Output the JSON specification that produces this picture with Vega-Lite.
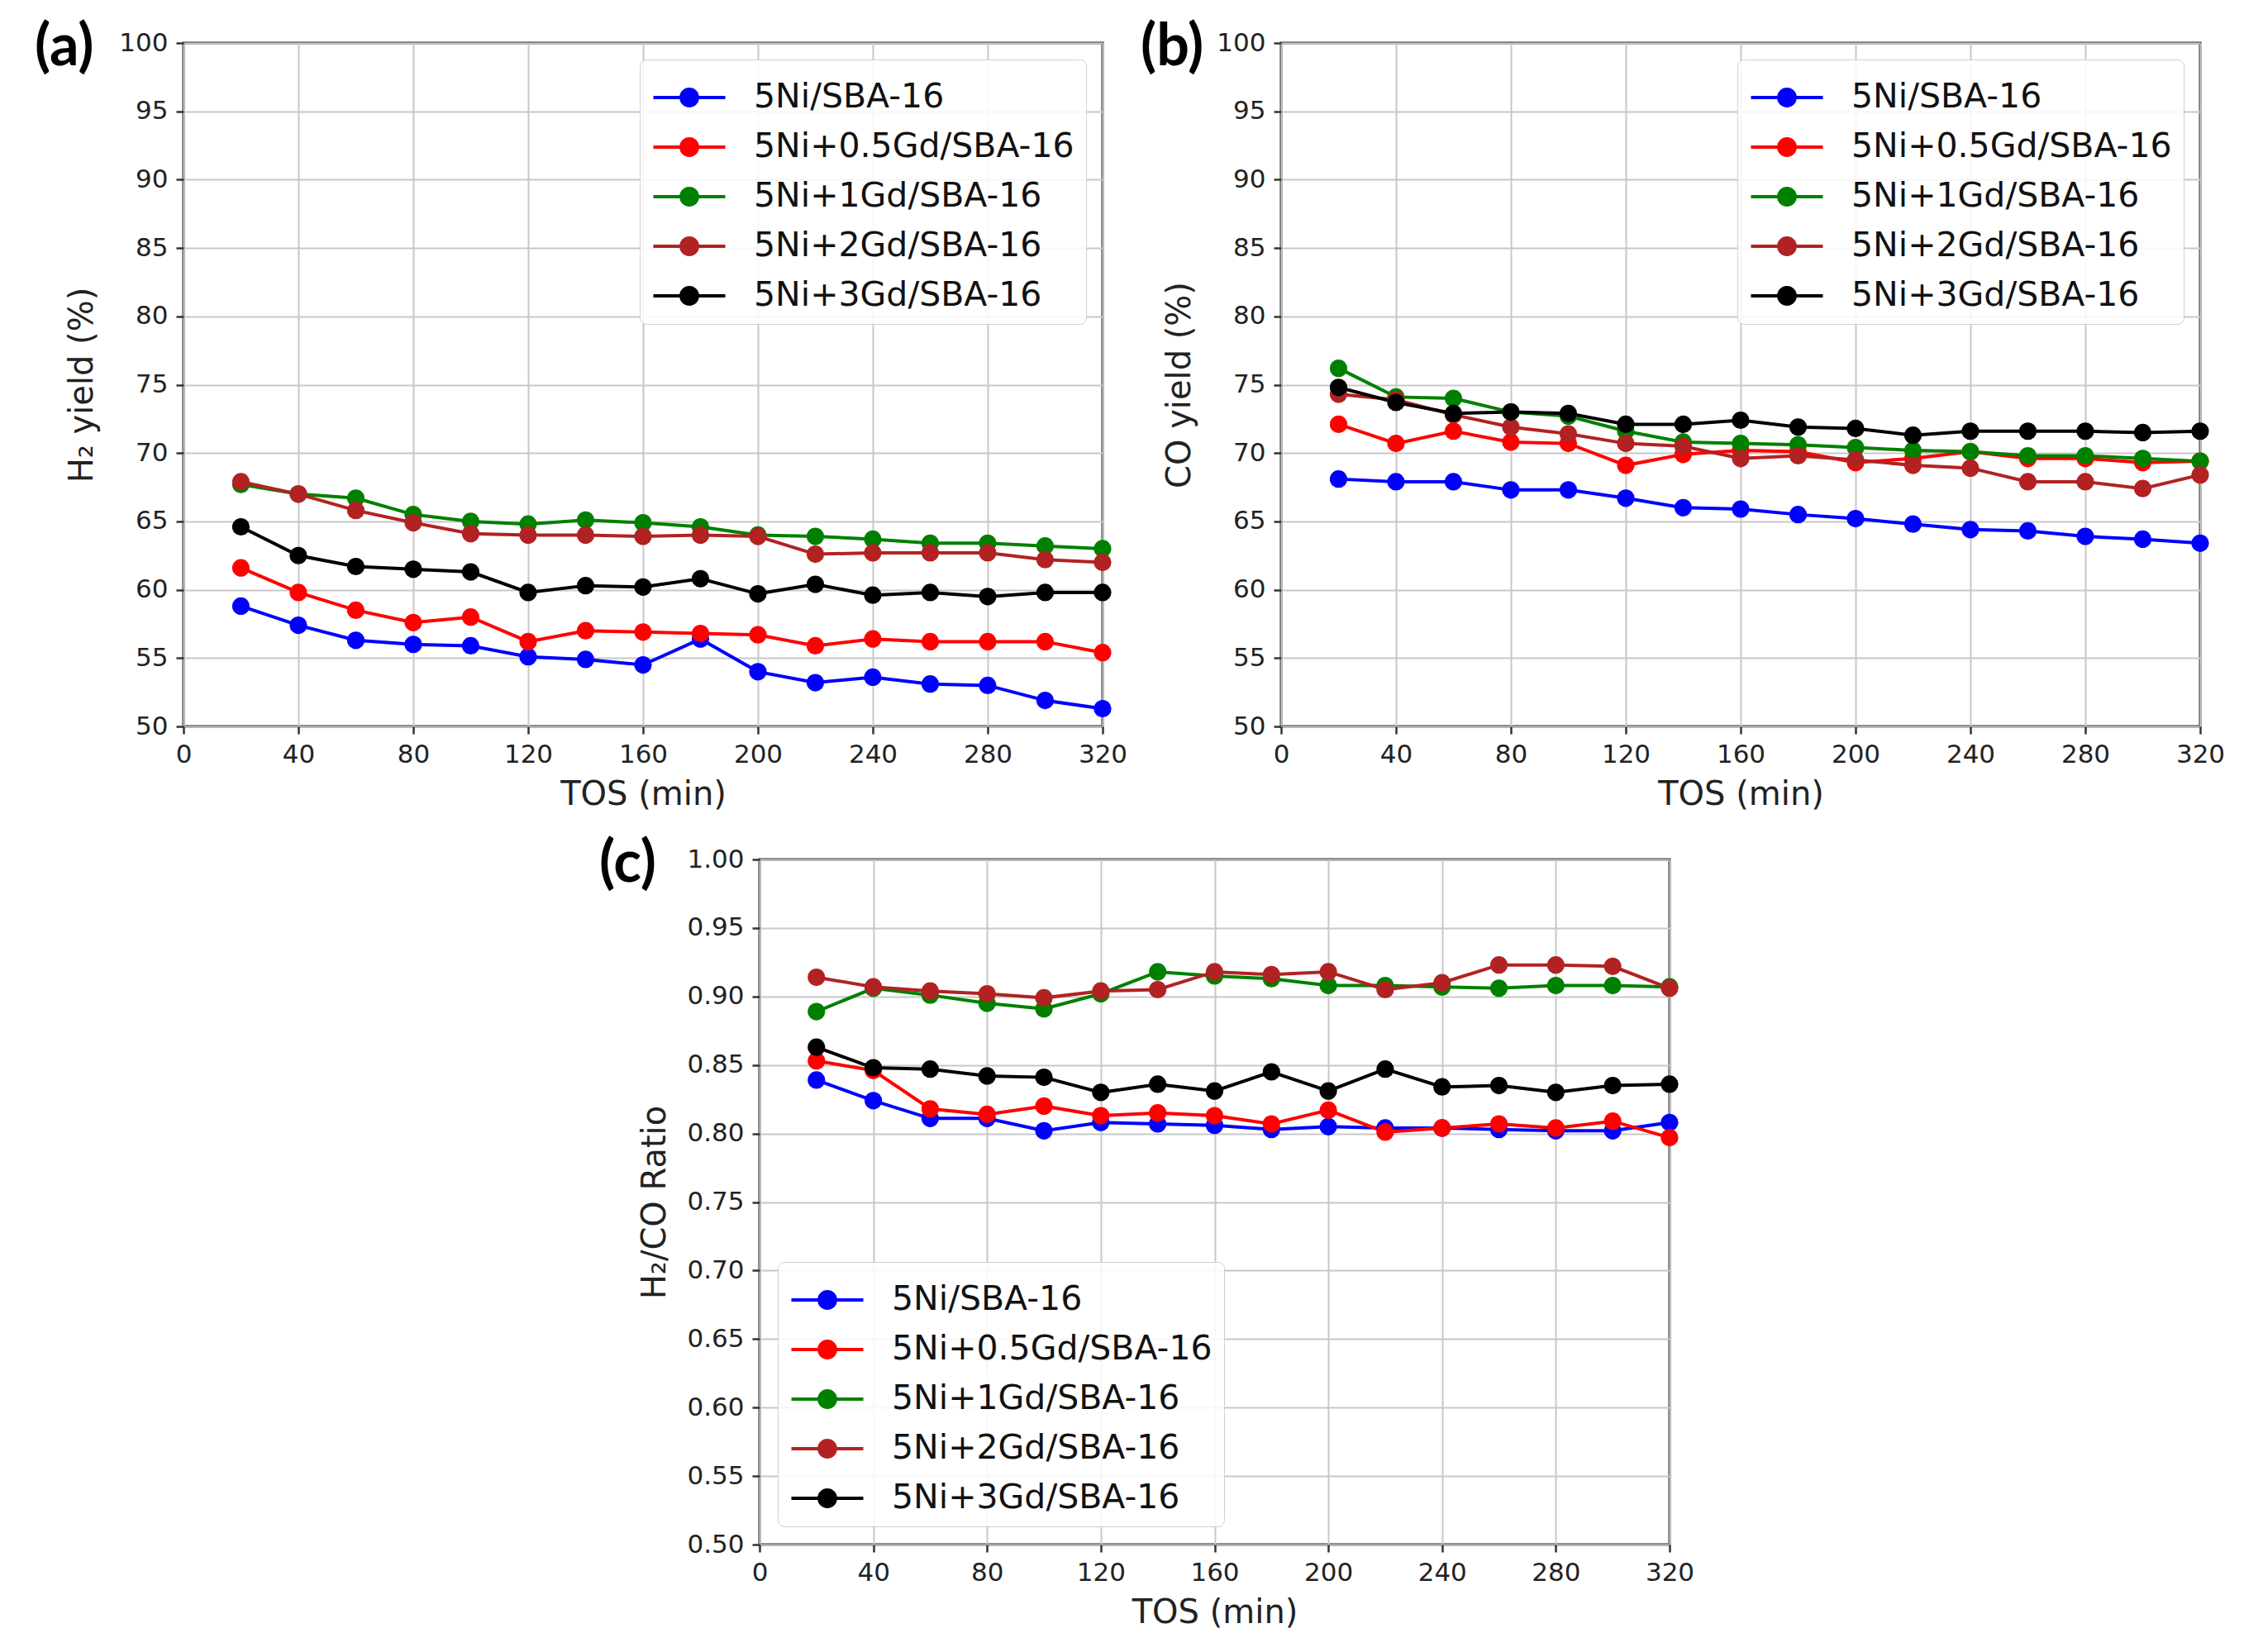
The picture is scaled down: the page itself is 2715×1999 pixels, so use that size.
{
  "$schema": "https://vega.github.io/schema/vega-lite/v6.json",
  "background": "white",
  "padding": {"left": 40, "top": 21, "right": 20, "bottom": 20},
  "datasets": {
    "yields": [
      {"p": "a", "s": "5Ni/SBA-16", "t": 20, "v": 58.8}, {"p": "a", "s": "5Ni/SBA-16", "t": 40, "v": 57.4}, {"p": "a", "s": "5Ni/SBA-16", "t": 60, "v": 56.3}, {"p": "a", "s": "5Ni/SBA-16", "t": 80, "v": 56.0},
      {"p": "a", "s": "5Ni/SBA-16", "t": 100, "v": 55.9}, {"p": "a", "s": "5Ni/SBA-16", "t": 120, "v": 55.1}, {"p": "a", "s": "5Ni/SBA-16", "t": 140, "v": 54.9}, {"p": "a", "s": "5Ni/SBA-16", "t": 160, "v": 54.5},
      {"p": "a", "s": "5Ni/SBA-16", "t": 180, "v": 56.4}, {"p": "a", "s": "5Ni/SBA-16", "t": 200, "v": 54.0}, {"p": "a", "s": "5Ni/SBA-16", "t": 220, "v": 53.2}, {"p": "a", "s": "5Ni/SBA-16", "t": 240, "v": 53.6},
      {"p": "a", "s": "5Ni/SBA-16", "t": 260, "v": 53.1}, {"p": "a", "s": "5Ni/SBA-16", "t": 280, "v": 53.0}, {"p": "a", "s": "5Ni/SBA-16", "t": 300, "v": 51.9}, {"p": "a", "s": "5Ni/SBA-16", "t": 320, "v": 51.3},
      {"p": "a", "s": "5Ni+0.5Gd/SBA-16", "t": 20, "v": 61.6}, {"p": "a", "s": "5Ni+0.5Gd/SBA-16", "t": 40, "v": 59.8}, {"p": "a", "s": "5Ni+0.5Gd/SBA-16", "t": 60, "v": 58.5}, {"p": "a", "s": "5Ni+0.5Gd/SBA-16", "t": 80, "v": 57.6},
      {"p": "a", "s": "5Ni+0.5Gd/SBA-16", "t": 100, "v": 58.0}, {"p": "a", "s": "5Ni+0.5Gd/SBA-16", "t": 120, "v": 56.2}, {"p": "a", "s": "5Ni+0.5Gd/SBA-16", "t": 140, "v": 57.0}, {"p": "a", "s": "5Ni+0.5Gd/SBA-16", "t": 160, "v": 56.9},
      {"p": "a", "s": "5Ni+0.5Gd/SBA-16", "t": 180, "v": 56.8}, {"p": "a", "s": "5Ni+0.5Gd/SBA-16", "t": 200, "v": 56.7}, {"p": "a", "s": "5Ni+0.5Gd/SBA-16", "t": 220, "v": 55.9}, {"p": "a", "s": "5Ni+0.5Gd/SBA-16", "t": 240, "v": 56.4},
      {"p": "a", "s": "5Ni+0.5Gd/SBA-16", "t": 260, "v": 56.2}, {"p": "a", "s": "5Ni+0.5Gd/SBA-16", "t": 280, "v": 56.2}, {"p": "a", "s": "5Ni+0.5Gd/SBA-16", "t": 300, "v": 56.2}, {"p": "a", "s": "5Ni+0.5Gd/SBA-16", "t": 320, "v": 55.4},
      {"p": "a", "s": "5Ni+1Gd/SBA-16", "t": 20, "v": 67.7}, {"p": "a", "s": "5Ni+1Gd/SBA-16", "t": 40, "v": 67.0}, {"p": "a", "s": "5Ni+1Gd/SBA-16", "t": 60, "v": 66.7}, {"p": "a", "s": "5Ni+1Gd/SBA-16", "t": 80, "v": 65.5},
      {"p": "a", "s": "5Ni+1Gd/SBA-16", "t": 100, "v": 65.0}, {"p": "a", "s": "5Ni+1Gd/SBA-16", "t": 120, "v": 64.8}, {"p": "a", "s": "5Ni+1Gd/SBA-16", "t": 140, "v": 65.1}, {"p": "a", "s": "5Ni+1Gd/SBA-16", "t": 160, "v": 64.9},
      {"p": "a", "s": "5Ni+1Gd/SBA-16", "t": 180, "v": 64.6}, {"p": "a", "s": "5Ni+1Gd/SBA-16", "t": 200, "v": 64.0}, {"p": "a", "s": "5Ni+1Gd/SBA-16", "t": 220, "v": 63.9}, {"p": "a", "s": "5Ni+1Gd/SBA-16", "t": 240, "v": 63.7},
      {"p": "a", "s": "5Ni+1Gd/SBA-16", "t": 260, "v": 63.4}, {"p": "a", "s": "5Ni+1Gd/SBA-16", "t": 280, "v": 63.4}, {"p": "a", "s": "5Ni+1Gd/SBA-16", "t": 300, "v": 63.2}, {"p": "a", "s": "5Ni+1Gd/SBA-16", "t": 320, "v": 63.0},
      {"p": "a", "s": "5Ni+2Gd/SBA-16", "t": 20, "v": 67.9}, {"p": "a", "s": "5Ni+2Gd/SBA-16", "t": 40, "v": 67.0}, {"p": "a", "s": "5Ni+2Gd/SBA-16", "t": 60, "v": 65.8}, {"p": "a", "s": "5Ni+2Gd/SBA-16", "t": 80, "v": 64.9},
      {"p": "a", "s": "5Ni+2Gd/SBA-16", "t": 100, "v": 64.1}, {"p": "a", "s": "5Ni+2Gd/SBA-16", "t": 120, "v": 64.0}, {"p": "a", "s": "5Ni+2Gd/SBA-16", "t": 140, "v": 64.0}, {"p": "a", "s": "5Ni+2Gd/SBA-16", "t": 160, "v": 63.9},
      {"p": "a", "s": "5Ni+2Gd/SBA-16", "t": 180, "v": 64.0}, {"p": "a", "s": "5Ni+2Gd/SBA-16", "t": 200, "v": 63.9}, {"p": "a", "s": "5Ni+2Gd/SBA-16", "t": 220, "v": 62.6}, {"p": "a", "s": "5Ni+2Gd/SBA-16", "t": 240, "v": 62.7},
      {"p": "a", "s": "5Ni+2Gd/SBA-16", "t": 260, "v": 62.7}, {"p": "a", "s": "5Ni+2Gd/SBA-16", "t": 280, "v": 62.7}, {"p": "a", "s": "5Ni+2Gd/SBA-16", "t": 300, "v": 62.2}, {"p": "a", "s": "5Ni+2Gd/SBA-16", "t": 320, "v": 62.0},
      {"p": "a", "s": "5Ni+3Gd/SBA-16", "t": 20, "v": 64.6}, {"p": "a", "s": "5Ni+3Gd/SBA-16", "t": 40, "v": 62.5}, {"p": "a", "s": "5Ni+3Gd/SBA-16", "t": 60, "v": 61.7}, {"p": "a", "s": "5Ni+3Gd/SBA-16", "t": 80, "v": 61.5},
      {"p": "a", "s": "5Ni+3Gd/SBA-16", "t": 100, "v": 61.3}, {"p": "a", "s": "5Ni+3Gd/SBA-16", "t": 120, "v": 59.8}, {"p": "a", "s": "5Ni+3Gd/SBA-16", "t": 140, "v": 60.3}, {"p": "a", "s": "5Ni+3Gd/SBA-16", "t": 160, "v": 60.2},
      {"p": "a", "s": "5Ni+3Gd/SBA-16", "t": 180, "v": 60.8}, {"p": "a", "s": "5Ni+3Gd/SBA-16", "t": 200, "v": 59.7}, {"p": "a", "s": "5Ni+3Gd/SBA-16", "t": 220, "v": 60.4}, {"p": "a", "s": "5Ni+3Gd/SBA-16", "t": 240, "v": 59.6},
      {"p": "a", "s": "5Ni+3Gd/SBA-16", "t": 260, "v": 59.8}, {"p": "a", "s": "5Ni+3Gd/SBA-16", "t": 280, "v": 59.5}, {"p": "a", "s": "5Ni+3Gd/SBA-16", "t": 300, "v": 59.8}, {"p": "a", "s": "5Ni+3Gd/SBA-16", "t": 320, "v": 59.8},

      {"p": "b", "s": "5Ni/SBA-16", "t": 20, "v": 68.1}, {"p": "b", "s": "5Ni/SBA-16", "t": 40, "v": 67.9}, {"p": "b", "s": "5Ni/SBA-16", "t": 60, "v": 67.9}, {"p": "b", "s": "5Ni/SBA-16", "t": 80, "v": 67.3},
      {"p": "b", "s": "5Ni/SBA-16", "t": 100, "v": 67.3}, {"p": "b", "s": "5Ni/SBA-16", "t": 120, "v": 66.7}, {"p": "b", "s": "5Ni/SBA-16", "t": 140, "v": 66.0}, {"p": "b", "s": "5Ni/SBA-16", "t": 160, "v": 65.9},
      {"p": "b", "s": "5Ni/SBA-16", "t": 180, "v": 65.5}, {"p": "b", "s": "5Ni/SBA-16", "t": 200, "v": 65.2}, {"p": "b", "s": "5Ni/SBA-16", "t": 220, "v": 64.8}, {"p": "b", "s": "5Ni/SBA-16", "t": 240, "v": 64.4},
      {"p": "b", "s": "5Ni/SBA-16", "t": 260, "v": 64.3}, {"p": "b", "s": "5Ni/SBA-16", "t": 280, "v": 63.9}, {"p": "b", "s": "5Ni/SBA-16", "t": 300, "v": 63.7}, {"p": "b", "s": "5Ni/SBA-16", "t": 320, "v": 63.4},
      {"p": "b", "s": "5Ni+0.5Gd/SBA-16", "t": 20, "v": 72.1}, {"p": "b", "s": "5Ni+0.5Gd/SBA-16", "t": 40, "v": 70.7}, {"p": "b", "s": "5Ni+0.5Gd/SBA-16", "t": 60, "v": 71.6}, {"p": "b", "s": "5Ni+0.5Gd/SBA-16", "t": 80, "v": 70.8},
      {"p": "b", "s": "5Ni+0.5Gd/SBA-16", "t": 100, "v": 70.7}, {"p": "b", "s": "5Ni+0.5Gd/SBA-16", "t": 120, "v": 69.1}, {"p": "b", "s": "5Ni+0.5Gd/SBA-16", "t": 140, "v": 69.9}, {"p": "b", "s": "5Ni+0.5Gd/SBA-16", "t": 160, "v": 70.2},
      {"p": "b", "s": "5Ni+0.5Gd/SBA-16", "t": 180, "v": 70.1}, {"p": "b", "s": "5Ni+0.5Gd/SBA-16", "t": 200, "v": 69.3}, {"p": "b", "s": "5Ni+0.5Gd/SBA-16", "t": 220, "v": 69.6}, {"p": "b", "s": "5Ni+0.5Gd/SBA-16", "t": 240, "v": 70.1},
      {"p": "b", "s": "5Ni+0.5Gd/SBA-16", "t": 260, "v": 69.6}, {"p": "b", "s": "5Ni+0.5Gd/SBA-16", "t": 280, "v": 69.6}, {"p": "b", "s": "5Ni+0.5Gd/SBA-16", "t": 300, "v": 69.3}, {"p": "b", "s": "5Ni+0.5Gd/SBA-16", "t": 320, "v": 69.4},
      {"p": "b", "s": "5Ni+1Gd/SBA-16", "t": 20, "v": 76.2}, {"p": "b", "s": "5Ni+1Gd/SBA-16", "t": 40, "v": 74.1}, {"p": "b", "s": "5Ni+1Gd/SBA-16", "t": 60, "v": 74.0}, {"p": "b", "s": "5Ni+1Gd/SBA-16", "t": 80, "v": 73.0},
      {"p": "b", "s": "5Ni+1Gd/SBA-16", "t": 100, "v": 72.7}, {"p": "b", "s": "5Ni+1Gd/SBA-16", "t": 120, "v": 71.6}, {"p": "b", "s": "5Ni+1Gd/SBA-16", "t": 140, "v": 70.8}, {"p": "b", "s": "5Ni+1Gd/SBA-16", "t": 160, "v": 70.7},
      {"p": "b", "s": "5Ni+1Gd/SBA-16", "t": 180, "v": 70.6}, {"p": "b", "s": "5Ni+1Gd/SBA-16", "t": 200, "v": 70.4}, {"p": "b", "s": "5Ni+1Gd/SBA-16", "t": 220, "v": 70.2}, {"p": "b", "s": "5Ni+1Gd/SBA-16", "t": 240, "v": 70.1},
      {"p": "b", "s": "5Ni+1Gd/SBA-16", "t": 260, "v": 69.8}, {"p": "b", "s": "5Ni+1Gd/SBA-16", "t": 280, "v": 69.8}, {"p": "b", "s": "5Ni+1Gd/SBA-16", "t": 300, "v": 69.6}, {"p": "b", "s": "5Ni+1Gd/SBA-16", "t": 320, "v": 69.4},
      {"p": "b", "s": "5Ni+2Gd/SBA-16", "t": 20, "v": 74.3}, {"p": "b", "s": "5Ni+2Gd/SBA-16", "t": 40, "v": 73.9}, {"p": "b", "s": "5Ni+2Gd/SBA-16", "t": 60, "v": 72.8}, {"p": "b", "s": "5Ni+2Gd/SBA-16", "t": 80, "v": 71.9},
      {"p": "b", "s": "5Ni+2Gd/SBA-16", "t": 100, "v": 71.4}, {"p": "b", "s": "5Ni+2Gd/SBA-16", "t": 120, "v": 70.7}, {"p": "b", "s": "5Ni+2Gd/SBA-16", "t": 140, "v": 70.5}, {"p": "b", "s": "5Ni+2Gd/SBA-16", "t": 160, "v": 69.6},
      {"p": "b", "s": "5Ni+2Gd/SBA-16", "t": 180, "v": 69.8}, {"p": "b", "s": "5Ni+2Gd/SBA-16", "t": 200, "v": 69.5}, {"p": "b", "s": "5Ni+2Gd/SBA-16", "t": 220, "v": 69.1}, {"p": "b", "s": "5Ni+2Gd/SBA-16", "t": 240, "v": 68.9},
      {"p": "b", "s": "5Ni+2Gd/SBA-16", "t": 260, "v": 67.9}, {"p": "b", "s": "5Ni+2Gd/SBA-16", "t": 280, "v": 67.9}, {"p": "b", "s": "5Ni+2Gd/SBA-16", "t": 300, "v": 67.4}, {"p": "b", "s": "5Ni+2Gd/SBA-16", "t": 320, "v": 68.4},
      {"p": "b", "s": "5Ni+3Gd/SBA-16", "t": 20, "v": 74.8}, {"p": "b", "s": "5Ni+3Gd/SBA-16", "t": 40, "v": 73.7}, {"p": "b", "s": "5Ni+3Gd/SBA-16", "t": 60, "v": 72.9}, {"p": "b", "s": "5Ni+3Gd/SBA-16", "t": 80, "v": 73.0},
      {"p": "b", "s": "5Ni+3Gd/SBA-16", "t": 100, "v": 72.9}, {"p": "b", "s": "5Ni+3Gd/SBA-16", "t": 120, "v": 72.1}, {"p": "b", "s": "5Ni+3Gd/SBA-16", "t": 140, "v": 72.1}, {"p": "b", "s": "5Ni+3Gd/SBA-16", "t": 160, "v": 72.4},
      {"p": "b", "s": "5Ni+3Gd/SBA-16", "t": 180, "v": 71.9}, {"p": "b", "s": "5Ni+3Gd/SBA-16", "t": 200, "v": 71.8}, {"p": "b", "s": "5Ni+3Gd/SBA-16", "t": 220, "v": 71.3}, {"p": "b", "s": "5Ni+3Gd/SBA-16", "t": 240, "v": 71.6},
      {"p": "b", "s": "5Ni+3Gd/SBA-16", "t": 260, "v": 71.6}, {"p": "b", "s": "5Ni+3Gd/SBA-16", "t": 280, "v": 71.6}, {"p": "b", "s": "5Ni+3Gd/SBA-16", "t": 300, "v": 71.5}, {"p": "b", "s": "5Ni+3Gd/SBA-16", "t": 320, "v": 71.6},

      {"p": "c", "s": "5Ni/SBA-16", "t": 20, "v": 0.839}, {"p": "c", "s": "5Ni/SBA-16", "t": 40, "v": 0.824}, {"p": "c", "s": "5Ni/SBA-16", "t": 60, "v": 0.811}, {"p": "c", "s": "5Ni/SBA-16", "t": 80, "v": 0.811},
      {"p": "c", "s": "5Ni/SBA-16", "t": 100, "v": 0.802}, {"p": "c", "s": "5Ni/SBA-16", "t": 120, "v": 0.808}, {"p": "c", "s": "5Ni/SBA-16", "t": 140, "v": 0.807}, {"p": "c", "s": "5Ni/SBA-16", "t": 160, "v": 0.806},
      {"p": "c", "s": "5Ni/SBA-16", "t": 180, "v": 0.803}, {"p": "c", "s": "5Ni/SBA-16", "t": 200, "v": 0.805}, {"p": "c", "s": "5Ni/SBA-16", "t": 220, "v": 0.804}, {"p": "c", "s": "5Ni/SBA-16", "t": 240, "v": 0.804},
      {"p": "c", "s": "5Ni/SBA-16", "t": 260, "v": 0.803}, {"p": "c", "s": "5Ni/SBA-16", "t": 280, "v": 0.802}, {"p": "c", "s": "5Ni/SBA-16", "t": 300, "v": 0.802}, {"p": "c", "s": "5Ni/SBA-16", "t": 320, "v": 0.808},
      {"p": "c", "s": "5Ni+0.5Gd/SBA-16", "t": 20, "v": 0.853}, {"p": "c", "s": "5Ni+0.5Gd/SBA-16", "t": 40, "v": 0.846}, {"p": "c", "s": "5Ni+0.5Gd/SBA-16", "t": 60, "v": 0.818}, {"p": "c", "s": "5Ni+0.5Gd/SBA-16", "t": 80, "v": 0.814},
      {"p": "c", "s": "5Ni+0.5Gd/SBA-16", "t": 100, "v": 0.820}, {"p": "c", "s": "5Ni+0.5Gd/SBA-16", "t": 120, "v": 0.813}, {"p": "c", "s": "5Ni+0.5Gd/SBA-16", "t": 140, "v": 0.815}, {"p": "c", "s": "5Ni+0.5Gd/SBA-16", "t": 160, "v": 0.813},
      {"p": "c", "s": "5Ni+0.5Gd/SBA-16", "t": 180, "v": 0.807}, {"p": "c", "s": "5Ni+0.5Gd/SBA-16", "t": 200, "v": 0.817}, {"p": "c", "s": "5Ni+0.5Gd/SBA-16", "t": 220, "v": 0.801}, {"p": "c", "s": "5Ni+0.5Gd/SBA-16", "t": 240, "v": 0.804},
      {"p": "c", "s": "5Ni+0.5Gd/SBA-16", "t": 260, "v": 0.807}, {"p": "c", "s": "5Ni+0.5Gd/SBA-16", "t": 280, "v": 0.804}, {"p": "c", "s": "5Ni+0.5Gd/SBA-16", "t": 300, "v": 0.809}, {"p": "c", "s": "5Ni+0.5Gd/SBA-16", "t": 320, "v": 0.797},
      {"p": "c", "s": "5Ni+1Gd/SBA-16", "t": 20, "v": 0.889}, {"p": "c", "s": "5Ni+1Gd/SBA-16", "t": 40, "v": 0.906}, {"p": "c", "s": "5Ni+1Gd/SBA-16", "t": 60, "v": 0.901}, {"p": "c", "s": "5Ni+1Gd/SBA-16", "t": 80, "v": 0.895},
      {"p": "c", "s": "5Ni+1Gd/SBA-16", "t": 100, "v": 0.891}, {"p": "c", "s": "5Ni+1Gd/SBA-16", "t": 120, "v": 0.902}, {"p": "c", "s": "5Ni+1Gd/SBA-16", "t": 140, "v": 0.918}, {"p": "c", "s": "5Ni+1Gd/SBA-16", "t": 160, "v": 0.915},
      {"p": "c", "s": "5Ni+1Gd/SBA-16", "t": 180, "v": 0.913}, {"p": "c", "s": "5Ni+1Gd/SBA-16", "t": 200, "v": 0.908}, {"p": "c", "s": "5Ni+1Gd/SBA-16", "t": 220, "v": 0.908}, {"p": "c", "s": "5Ni+1Gd/SBA-16", "t": 240, "v": 0.907},
      {"p": "c", "s": "5Ni+1Gd/SBA-16", "t": 260, "v": 0.906}, {"p": "c", "s": "5Ni+1Gd/SBA-16", "t": 280, "v": 0.908}, {"p": "c", "s": "5Ni+1Gd/SBA-16", "t": 300, "v": 0.908}, {"p": "c", "s": "5Ni+1Gd/SBA-16", "t": 320, "v": 0.907},
      {"p": "c", "s": "5Ni+2Gd/SBA-16", "t": 20, "v": 0.914}, {"p": "c", "s": "5Ni+2Gd/SBA-16", "t": 40, "v": 0.907}, {"p": "c", "s": "5Ni+2Gd/SBA-16", "t": 60, "v": 0.904}, {"p": "c", "s": "5Ni+2Gd/SBA-16", "t": 80, "v": 0.902},
      {"p": "c", "s": "5Ni+2Gd/SBA-16", "t": 100, "v": 0.899}, {"p": "c", "s": "5Ni+2Gd/SBA-16", "t": 120, "v": 0.904}, {"p": "c", "s": "5Ni+2Gd/SBA-16", "t": 140, "v": 0.905}, {"p": "c", "s": "5Ni+2Gd/SBA-16", "t": 160, "v": 0.918},
      {"p": "c", "s": "5Ni+2Gd/SBA-16", "t": 180, "v": 0.916}, {"p": "c", "s": "5Ni+2Gd/SBA-16", "t": 200, "v": 0.918}, {"p": "c", "s": "5Ni+2Gd/SBA-16", "t": 220, "v": 0.905}, {"p": "c", "s": "5Ni+2Gd/SBA-16", "t": 240, "v": 0.910},
      {"p": "c", "s": "5Ni+2Gd/SBA-16", "t": 260, "v": 0.923}, {"p": "c", "s": "5Ni+2Gd/SBA-16", "t": 280, "v": 0.923}, {"p": "c", "s": "5Ni+2Gd/SBA-16", "t": 300, "v": 0.922}, {"p": "c", "s": "5Ni+2Gd/SBA-16", "t": 320, "v": 0.906},
      {"p": "c", "s": "5Ni+3Gd/SBA-16", "t": 20, "v": 0.863}, {"p": "c", "s": "5Ni+3Gd/SBA-16", "t": 40, "v": 0.848}, {"p": "c", "s": "5Ni+3Gd/SBA-16", "t": 60, "v": 0.847}, {"p": "c", "s": "5Ni+3Gd/SBA-16", "t": 80, "v": 0.842},
      {"p": "c", "s": "5Ni+3Gd/SBA-16", "t": 100, "v": 0.841}, {"p": "c", "s": "5Ni+3Gd/SBA-16", "t": 120, "v": 0.830}, {"p": "c", "s": "5Ni+3Gd/SBA-16", "t": 140, "v": 0.836}, {"p": "c", "s": "5Ni+3Gd/SBA-16", "t": 160, "v": 0.831},
      {"p": "c", "s": "5Ni+3Gd/SBA-16", "t": 180, "v": 0.845}, {"p": "c", "s": "5Ni+3Gd/SBA-16", "t": 200, "v": 0.831}, {"p": "c", "s": "5Ni+3Gd/SBA-16", "t": 220, "v": 0.847}, {"p": "c", "s": "5Ni+3Gd/SBA-16", "t": 240, "v": 0.834},
      {"p": "c", "s": "5Ni+3Gd/SBA-16", "t": 260, "v": 0.835}, {"p": "c", "s": "5Ni+3Gd/SBA-16", "t": 280, "v": 0.830}, {"p": "c", "s": "5Ni+3Gd/SBA-16", "t": 300, "v": 0.835}, {"p": "c", "s": "5Ni+3Gd/SBA-16", "t": 320, "v": 0.836}
    ]
  },
  "vconcat": [
    {
      "hconcat": [
        {
          "width": 1112,
          "height": 827,
          "data": {"name": "yields"},
          "transform": [{"filter": "datum.p == 'a'"}],
          "title": {"text": "(a)", "anchor": "start", "frame": "group", "dx": -180, "dy": 62},
          "mark": {"type": "line", "strokeWidth": 4, "point": {"filled": true, "size": 450, "opacity": 1}},
          "encoding": {
            "x": {"field": "t", "type": "quantitative", "title": "TOS (min)",
              "scale": {"domain": [0, 320], "nice": false},
              "axis": {"values": [0, 40, 80, 120, 160, 200, 240, 280, 320]}},
            "y": {"field": "v", "type": "quantitative", "title": "H₂ yield (%)",
              "scale": {"domain": [50, 100], "nice": false, "zero": false},
              "axis": {"values": [50, 55, 60, 65, 70, 75, 80, 85, 90, 95, 100], "titlePadding": 24}},
            "color": {"field": "s", "type": "nominal", "sort": null,
              "scale": {"domain": ["5Ni/SBA-16", "5Ni+0.5Gd/SBA-16", "5Ni+1Gd/SBA-16", "5Ni+2Gd/SBA-16", "5Ni+3Gd/SBA-16"],
                "range": ["#0000ff", "#ff0000", "#008000", "#b22222", "#000000"]},
              "legend": {"orient": "top-right", "offset": 20,
                "encode": {"symbols": {"update": {"fill": {"signal": "datum.value == '5Ni/SBA-16' ? '#0000ff' : datum.value == '5Ni+0.5Gd/SBA-16' ? '#ff0000' : datum.value == '5Ni+1Gd/SBA-16' ? '#008000' : datum.value == '5Ni+2Gd/SBA-16' ? '#b22222' : '#000000'"}}}}}}
          }
        },
        {
          "width": 1112,
          "height": 827,
          "data": {"name": "yields"},
          "transform": [{"filter": "datum.p == 'b'"}],
          "title": {"text": "(b)", "anchor": "start", "frame": "group", "dx": -170, "dy": 62},
          "mark": {"type": "line", "strokeWidth": 4, "point": {"filled": true, "size": 450, "opacity": 1}},
          "encoding": {
            "x": {"field": "t", "type": "quantitative", "title": "TOS (min)",
              "scale": {"domain": [0, 320], "nice": false},
              "axis": {"values": [0, 40, 80, 120, 160, 200, 240, 280, 320]}},
            "y": {"field": "v", "type": "quantitative", "title": "CO yield (%)",
              "scale": {"domain": [50, 100], "nice": false, "zero": false},
              "axis": {"values": [50, 55, 60, 65, 70, 75, 80, 85, 90, 95, 100], "titlePadding": 24}},
            "color": {"field": "s", "type": "nominal", "sort": null,
              "scale": {"domain": ["5Ni/SBA-16", "5Ni+0.5Gd/SBA-16", "5Ni+1Gd/SBA-16", "5Ni+2Gd/SBA-16", "5Ni+3Gd/SBA-16"],
                "range": ["#0000ff", "#ff0000", "#008000", "#b22222", "#000000"]},
              "legend": {"orient": "top-right", "offset": 20,
                "encode": {"symbols": {"update": {"fill": {"signal": "datum.value == '5Ni/SBA-16' ? '#0000ff' : datum.value == '5Ni+0.5Gd/SBA-16' ? '#ff0000' : datum.value == '5Ni+1Gd/SBA-16' ? '#008000' : datum.value == '5Ni+2Gd/SBA-16' ? '#b22222' : '#000000'"}}}}}}
          }
        }
      ],
      "spacing": 12,
      "resolve": {"legend": {"color": "independent"}}
    },
    {
      "hconcat": [
        {
          "width": 501,
          "height": 10,
          "data": {"values": []},
          "mark": "point",
          "view": {"stroke": null}
        },
        {
          "width": 1101,
          "height": 829,
          "data": {"name": "yields"},
          "transform": [{"filter": "datum.p == 'c'"}],
          "title": {"text": "(c)", "anchor": "start", "frame": "group", "dx": -194, "dy": 62},
          "mark": {"type": "line", "strokeWidth": 4, "point": {"filled": true, "size": 450, "opacity": 1}},
          "encoding": {
            "x": {"field": "t", "type": "quantitative", "title": "TOS (min)",
              "scale": {"domain": [0, 320], "nice": false},
              "axis": {"values": [0, 40, 80, 120, 160, 200, 240, 280, 320]}},
            "y": {"field": "v", "type": "quantitative", "title": "H₂/CO Ratio",
              "scale": {"domain": [0.5, 1.0], "nice": false, "zero": false},
              "axis": {"values": [0.5, 0.55, 0.6, 0.65, 0.7, 0.75, 0.8, 0.85, 0.9, 0.95, 1.0], "format": ".2f", "titlePadding": 18}},
            "color": {"field": "s", "type": "nominal", "sort": null,
              "scale": {"domain": ["5Ni/SBA-16", "5Ni+0.5Gd/SBA-16", "5Ni+1Gd/SBA-16", "5Ni+2Gd/SBA-16", "5Ni+3Gd/SBA-16"],
                "range": ["#0000ff", "#ff0000", "#008000", "#b22222", "#000000"]},
              "legend": {"orient": "bottom-left", "offset": 22,
                "encode": {"symbols": {"update": {"fill": {"signal": "datum.value == '5Ni/SBA-16' ? '#0000ff' : datum.value == '5Ni+0.5Gd/SBA-16' ? '#ff0000' : datum.value == '5Ni+1Gd/SBA-16' ? '#008000' : datum.value == '5Ni+2Gd/SBA-16' ? '#b22222' : '#000000'"}}}}}}
          }
        }
      ],
      "spacing": 0,
      "resolve": {"legend": {"color": "independent"}}
    }
  ],
  "spacing": 26,
  "resolve": {"legend": {"color": "independent"}},
  "config": {
    "font": "DejaVu Sans",
    "view": {"stroke": "#333333", "strokeWidth": 3},
    "title": {"font": "Lato", "fontSize": 70, "fontWeight": "bold", "color": "#000000", "offset": 0},
    "axis": {
      "domain": false, "labelFlush": false,
      "labelFont": "DejaVu Sans", "labelFontSize": 31, "labelColor": "#222222", "labelPadding": 10,
      "titleFont": "DejaVu Sans", "titleFontSize": 40, "titleFontWeight": "normal", "titleColor": "#222222",
      "gridColor": "#c8c8c8", "gridWidth": 2,
      "tickColor": "#333333", "tickSize": 9, "tickWidth": 2.5
    },
    "axisX": {"titlePadding": 13},
    "legend": {
      "title": null,
      "labelFont": "DejaVu Sans", "labelFontSize": 41, "labelColor": "#111111", "labelLimit": 0, "labelOffset": 46,
      "symbolType": "M-1.45,0H1.45M-0.33,0A0.33,0.33 0 1,0 0.33,0A0.33,0.33 0 1,0 -0.33,0Z",
      "symbolSize": 3600, "symbolStrokeWidth": 4, "symbolOffset": 14,
      "fillColor": "rgba(255,255,255,0.85)", "strokeColor": "#d0d0d0", "cornerRadius": 8,
      "padding": 14, "rowPadding": 8
    }
  }
}
